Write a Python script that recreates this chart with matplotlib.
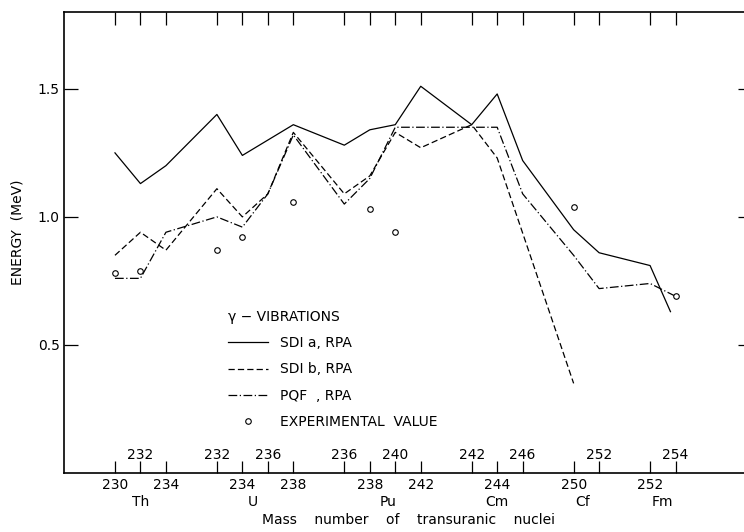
import matplotlib
matplotlib.use("Agg")
import matplotlib.pyplot as plt

plt.rcParams["font.family"] = ["DejaVu Sans"]
plt.rcParams["font.size"] = 10

# positions of the nuclei along the x axis (one slot per tick)
tick_pos = [0, 1, 2, 4, 5, 6, 7, 9, 10, 11, 12, 14, 15, 16, 18, 19, 21, 22]
lower_labels = ["230", "", "234", "", "234", "", "238", "", "238", "", "242", "", "244", "", "250", "", "252", ""]
upper_labels = ["", "232", "", "232", "", "236", "", "236", "", "240", "", "242", "", "246", "", "252", "", "254"]
elements = ["Th", "U", "Pu", "Cm", "Cf", "Fm"]
element_x = [1.0, 5.4, 10.7, 15.0, 18.35, 21.5]

# SDI a, RPA
sdi_a_x = [0, 1, 2, 4, 5, 7, 9, 10, 11, 12, 14, 15, 16, 18, 19, 21, 21.8]
sdi_a_y = [1.25, 1.13, 1.20, 1.40, 1.24, 1.36, 1.28, 1.34, 1.36, 1.51, 1.36, 1.48, 1.22, 0.95, 0.86, 0.81, 0.63]

# SDI b, RPA
sdi_b_x = [0, 1, 2, 4, 5, 6, 7, 9, 10, 11, 12, 14, 15, 18]
sdi_b_y = [0.85, 0.94, 0.87, 1.11, 1.00, 1.09, 1.33, 1.09, 1.16, 1.33, 1.27, 1.36, 1.23, 0.35]

# PQF, RPA
pqf_x = [0, 1, 2, 4, 5, 6, 7, 9, 10, 11, 12, 14, 15, 16, 18, 19, 21, 22]
pqf_y = [0.76, 0.76, 0.94, 1.00, 0.96, 1.09, 1.32, 1.05, 1.15, 1.35, 1.35, 1.35, 1.35, 1.09, 0.85, 0.72, 0.74, 0.69]

# experimental values
exp_x = [0, 1, 4, 5, 7, 10, 11, 18, 22]
exp_y = [0.78, 0.79, 0.87, 0.92, 1.06, 1.03, 0.94, 1.04, 0.69]

W, H = 744, 532
fig = plt.figure(figsize=(W / 100, H / 100), dpi=100)
ax = fig.add_axes([64 / W, 1 - 473 / H, (752 - 64) / W, (473 - 12) / H])

ax.plot(sdi_a_x, sdi_a_y, color="black", lw=0.9, label="SDI a, RPA")
ax.plot(sdi_b_x, sdi_b_y, color="black", lw=0.9, linestyle=(0, (5, 2.5)), label="SDI b, RPA")
ax.plot(pqf_x, pqf_y, color="black", lw=0.9, linestyle=(0, (7, 2, 1, 2)), label="PQF  , RPA")
ax.plot(exp_x, exp_y, linestyle="none", marker="o", ms=4, mfc="white", mec="black", mew=0.8,
        label="EXPERIMENTAL  VALUE")

ax.set_xlim(-2, 25)
ax.set_ylim(0, 1.8)

ax.set_xticks(tick_pos)
ax.set_xticklabels(lower_labels)
ax.set_yticks([0.5, 1.0, 1.5])
ax.set_yticklabels(["0.5", "1.0", "1.5"])
ax.tick_params(axis="x", direction="in", length=9, width=0.9, top=True, pad=3.5)
ax.tick_params(axis="y", direction="in", length=10, width=0.9, right=True, pad=3)

for x, lbl in zip(tick_pos, upper_labels):
    if lbl:
        ax.text(x, 0.039, lbl, transform=ax.get_xaxis_transform(), ha="center", va="center")

for x, el in zip(element_x, elements):
    ax.text(x, -0.063, el, transform=ax.get_xaxis_transform(), ha="center", va="center")

ax.set_xlabel("Mass    number    of    transuranic    nuclei")
ax.xaxis.set_label_coords(0.5, -0.102)
ax.xaxis.label.set_va("center")
ax.set_ylabel("ENERGY  (MeV)")
ax.yaxis.set_label_coords(-0.067, 0.523)
ax.yaxis.label.set_va("center")

for side in ["left", "top", "bottom"]:
    ax.spines[side].set_linewidth(1.2)
ax.spines["right"].set_visible(False)

leg = ax.legend(
    title="γ − VIBRATIONS",
    loc="upper left",
    bbox_to_anchor=(228 / W, 1 - 310 / H),
    bbox_transform=fig.transFigure,
    frameon=False,
    borderpad=0,
    borderaxespad=0,
    handlelength=2.9,
    handletextpad=0.86,
    labelspacing=0.88,
    numpoints=1,
    alignment="left",
    fontsize=10,
    title_fontsize=10,
)

fig.savefig("out.png", dpi=100)
